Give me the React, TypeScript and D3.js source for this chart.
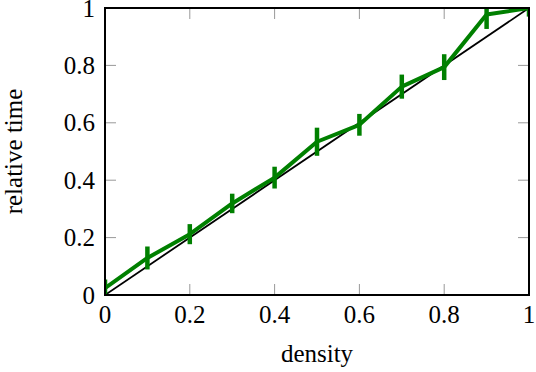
import React from 'react';
import * as d3 from 'd3';

const densities = [0, 0.1, 0.2, 0.3, 0.4, 0.5, 0.6, 0.7, 0.8, 0.9, 1.0];
const relTime = [0.024, 0.129, 0.212, 0.319, 0.409, 0.534, 0.593, 0.726, 0.794, 0.977, 1.0];
const relErr = [0.03, 0.04, 0.035, 0.034, 0.038, 0.049, 0.038, 0.042, 0.045, 0.05, 0.03];
const xTicks = [0, 0.2, 0.4, 0.6, 0.8, 1];
const yTicks = [0, 0.2, 0.4, 0.6, 0.8, 1];
const xTickLabels = ['0', '0.2', '0.4', '0.6', '0.8', '1'];
const yTickLabels = ['0', '0.2', '0.4', '0.6', '0.8', '1'];

const W = 536, H = 372;
const margin = { left: 105, right: 7, top: 8, bottom: 77 };
const font = 'Liberation Serif, DejaVu Serif, serif';

export default function App() {
  const x = d3.scaleLinear().domain([0, 1]).range([margin.left, W - margin.right]);
  const y = d3.scaleLinear().domain([0, 1]).range([H - margin.bottom, margin.top]);
  const [x0, x1] = x.range();
  const [y0, y1] = y.range();

  const pts = densities.map((d, i) => ({ d, v: relTime[i], e: relErr[i] }));
  const line = d3.line<{ d: number; v: number }>().x(p => x(p.d)).y(p => y(p.v));
  const diag = d3.line<number>().x(v => x(v)).y(v => y(v));
  const tickLen = 11;

  return (
    <div style={{ position: 'fixed', left: 0, top: 0 }}>
      <svg width={W} height={H} style={{ display: 'block', background: '#fff' }}>
        <defs>
          <clipPath id="plot">
            <rect x={x0} y={y1} width={x1 - x0} height={y0 - y1} />
          </clipPath>
        </defs>
        {/* inward ticks */}
        <g stroke="#999" strokeWidth={1}>
          {xTicks.slice(1, -1).map(t => (
            <g key={'x' + t}>
              <line x1={x(t)} x2={x(t)} y1={y0} y2={y0 - tickLen} />
              <line x1={x(t)} x2={x(t)} y1={y1} y2={y1 + tickLen} />
            </g>
          ))}
          {yTicks.slice(1, -1).map(t => (
            <g key={'y' + t}>
              <line x1={x0} x2={x0 + tickLen} y1={y(t)} y2={y(t)} />
              <line x1={x1} x2={x1 - tickLen} y1={y(t)} y2={y(t)} />
            </g>
          ))}
        </g>
        <g clipPath="url(#plot)">
          <path d={diag([0, 1]) || ''} fill="none" stroke="#000" strokeWidth={1.8} />
          <path d={line(pts) || ''} fill="none" stroke="#008000" strokeWidth={4} strokeLinejoin="round" />
          {pts.map(p => (
            <line key={p.d} x1={x(p.d)} x2={x(p.d)} y1={y(p.v - p.e)} y2={y(p.v + p.e)}
              stroke="#008000" strokeWidth={4.5} />
          ))}
        </g>
        <rect x={x0} y={y1} width={x1 - x0} height={y0 - y1} fill="none" stroke="#000" strokeWidth={2} />
        <g style={{ fontFamily: font, fontSize: 25 }} fill="#000">
          {xTicks.map((t, i) => (
            <text key={'xl' + t} x={x(t)} y={y0 + 28} textAnchor="middle">{xTickLabels[i]}</text>
          ))}
          {yTicks.map((t, i) => (
            <text key={'yl' + t} x={x0 - 10} y={y(t)} dy="0.34em" textAnchor="end">{yTickLabels[i]}</text>
          ))}
          <text x={(x0 + x1) / 2} y={362} textAnchor="middle">density</text>
          <text transform={`translate(22,${(y0 + y1) / 2}) rotate(-90)`} textAnchor="middle">relative time</text>
        </g>
      </svg>
    </div>
  );
}
